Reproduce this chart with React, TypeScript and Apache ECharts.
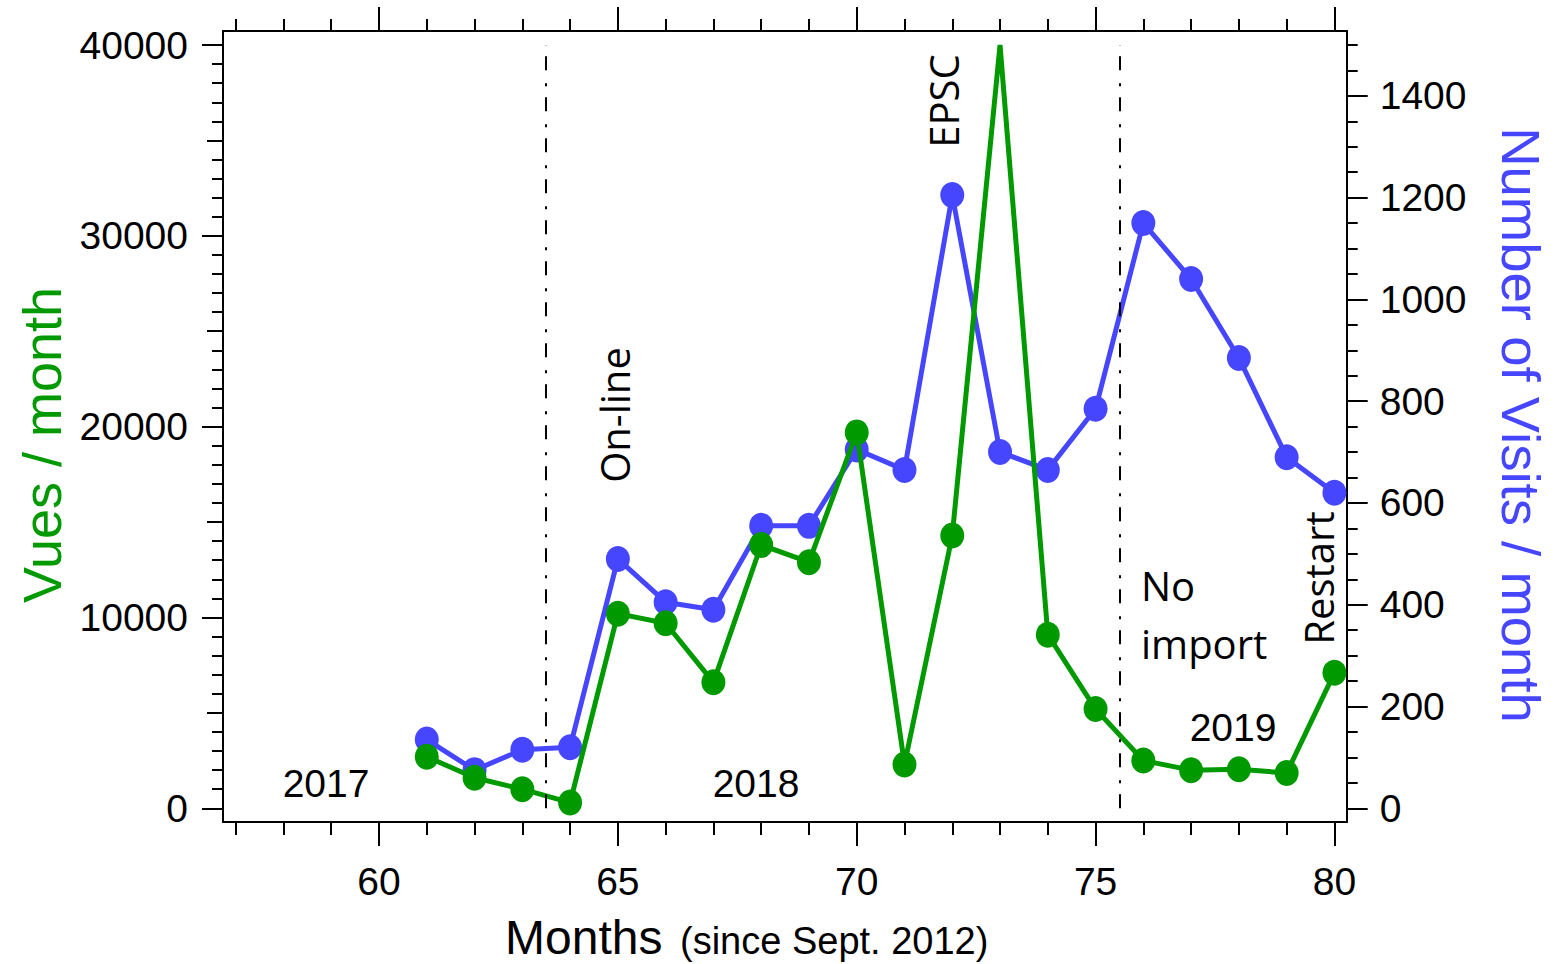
import React, { useEffect, useRef } from "react";
import * as echarts from "echarts";

// Months since Sept. 2012
const months = [61, 62, 63, 64, 65, 66, 67, 68, 69, 70, 71, 72, 73, 74, 75, 76, 77, 78, 79, 80];
// Page views per month (left axis); the month-73 peak runs off the top of the scale
const vuesPerMonth = [2700, 1600, 1000, 300, 10200, 9700, 6600, 13800, 12900, 19700, 2300, 14300, 40000, 9100, 5200, 2500, 2000, 2050, 1850, 7100];
// Visits per month (right axis)
const visitsPerMonth = [135, 75, 115, 120, 490, 405, 390, 555, 555, 705, 665, 1205, 700, 665, 785, 1150, 1040, 885, 690, 620];

const vuesTicks = [0, 10000, 20000, 30000, 40000];
const visitsTicks = [0, 200, 400, 600, 800, 1000, 1200, 1400];
const monthTicks = [60, 65, 70, 75, 80];
const vuesCeiling = 40000;

// Period boundaries (vertical dash-dot lines)
const periodBreaks = [63.5, 75.5];

const yearLabels = ["2017", "2018", "2019"];
const eventLabels = ["On-line", "EPSC", "No", "import", "Restart"];

const GREEN = "#009a00";
const BLUE = "#4646ff";
const AXIS_FONT = '"Liberation Sans", Arial, sans-serif';
const NOTE_FONT = '"Open Sans", "Noto Sans", sans-serif';

// axis extents (the frame extends a little past the labelled range)
const monthMin = 56.734;
const monthMax = 80.257;
const vuesMin = -718;
const vuesMax = 40734;
const visitsMin = -26.93;
const visitsMax = 1527.5;

function range(from: number, to: number, step: number, skip: (v: number) => boolean) {
  const out: number[] = [];
  for (let v = from; v <= to + 1e-9; v += step) if (!skip(v)) out.push(v);
  return out;
}

const monthMinor = range(57, 80, 1, (v) => v % 5 === 0);
const vuesMedium = range(5000, 35000, 10000, () => false);
const vuesMinor = range(1000, 40000, 1000, (v) => v % 5000 === 0);
const visitsMinor = range(50, 1500, 50, (v) => v % 200 === 0);

const tickLine = { color: "#000", width: 2 };

function ticksOnly(values: number[], length: number) {
  return {
    axisLine: { show: false, onZero: false },
    axisTick: { show: true, customValues: values, length, lineStyle: tickLine },
    axisLabel: { show: false },
    splitLine: { show: false },
  };
}

function labelled(values: number[], length: number, margin: number) {
  return {
    axisLine: { show: true, onZero: false, lineStyle: tickLine },
    axisTick: { show: true, customValues: values, length, lineStyle: tickLine },
    axisLabel: {
      show: true,
      customValues: values,
      margin,
      color: "#000",
      fontSize: 39,
      fontFamily: AXIS_FONT,
      formatter: (v: number) => String(v),
    },
    splitLine: { show: false },
  };
}

function buildOption() {
  const xBase = { type: "value", min: monthMin, max: monthMax, gridIndex: 0 };
  const vBase = { type: "value", min: vuesMin, max: vuesMax, position: "left" };
  const wBase = { type: "value", min: visitsMin, max: visitsMax, position: "right" };

  const note = (text: string, x: number, y: number, opts: any = {}) => ({
    type: "text",
    x,
    y,
    rotation: opts.rotation || 0,
    silent: true,
    style: {
      text,
      fill: opts.fill || "#000",
      fontSize: opts.fontSize || 40,
      fontFamily: opts.fontFamily || NOTE_FONT,
      align: opts.align || "center",
      verticalAlign: "middle",
    },
  });

  return {
    animation: false,
    backgroundColor: "#fff",
    textStyle: { fontFamily: AXIS_FONT },
    grid: { left: 223, top: 31, width: 1123.7, height: 791, containLabel: false, outerBoundsMode: "none" },
    xAxis: [
      { ...xBase, position: "bottom", ...labelled(monthTicks, 24, 40) },
      { ...xBase, position: "bottom", ...ticksOnly(monthMinor, 13) },
      { ...xBase, position: "top", ...ticksOnly(monthTicks, 24), axisLine: { show: true, onZero: false, lineStyle: tickLine } },
      { ...xBase, position: "top", ...ticksOnly(monthMinor, 12) },
    ],
    yAxis: [
      { ...vBase, ...labelled(vuesTicks, 21, 35) },
      { ...vBase, ...ticksOnly(vuesMedium, 16) },
      { ...vBase, ...ticksOnly(vuesMinor, 11) },
      { ...wBase, ...labelled(visitsTicks, 21, 33) },
      { ...wBase, ...ticksOnly(visitsMinor, 11) },
    ],
    series: [
      {
        name: "Number of Visits / month",
        type: "line",
        xAxisIndex: 0,
        yAxisIndex: 3,
        data: months.map((m, i) => [m, visitsPerMonth[i]]),
        symbol: "circle",
        symbolSize: [24, 26],
        lineStyle: { color: BLUE, width: 5 },
        itemStyle: { color: BLUE },
        emphasis: { disabled: true },
        z: 2,
      },
      {
        name: "Vues / month",
        type: "line",
        xAxisIndex: 0,
        yAxisIndex: 0,
        data: months.map((m, i) =>
          vuesPerMonth[i] >= vuesCeiling ? { value: [m, vuesPerMonth[i]], symbol: "none" } : [m, vuesPerMonth[i]]
        ),
        symbol: "circle",
        symbolSize: [24, 26],
        lineStyle: { color: GREEN, width: 5 },
        itemStyle: { color: GREEN },
        emphasis: { disabled: true },
        z: 3,
        markLine: {
          silent: true,
          symbol: ["none", "none"],
          label: { show: false },
          lineStyle: { color: "#000", width: 2, type: [14, 11, 3, 13] },
          emphasis: { disabled: true },
          data: periodBreaks.map((x) => [
            { coord: [x, vuesTicks[0]] },
            { coord: [x, vuesTicks[vuesTicks.length - 1]] },
          ]),
        },
      },
    ],
    graphic: [
      note("Vues / month", 42, 445, { rotation: Math.PI / 2, fill: GREEN, fontSize: 54, fontFamily: AXIS_FONT }),
      note("Number of Visits / month", 1520, 425, { rotation: -Math.PI / 2, fill: BLUE, fontSize: 54.5, fontFamily: AXIS_FONT }),
      note("Months", 505, 937, { align: "left", fontSize: 48, fontFamily: AXIS_FONT }),
      note("(since Sept. 2012)", 680, 941, { align: "left", fontSize: 38, fontFamily: AXIS_FONT }),
      note(yearLabels[0], 326, 783, { fontSize: 39, fontFamily: AXIS_FONT }),
      note(yearLabels[1], 756, 783, { fontSize: 39, fontFamily: AXIS_FONT }),
      note(yearLabels[2], 1233, 727, { fontSize: 39, fontFamily: AXIS_FONT }),
      note(eventLabels[0], 614, 415, { rotation: Math.PI / 2 }),
      note(eventLabels[1], 943, 101, { rotation: Math.PI / 2 }),
      note(eventLabels[2], 1141, 585, { align: "left" }),
      note(eventLabels[3], 1141, 643, { align: "left" }),
      note(eventLabels[4], 1318, 578, { rotation: Math.PI / 2 }),
    ],
  };
}

export default function App() {
  const ref = useRef<HTMLDivElement>(null);
  useEffect(() => {
    if (!ref.current) return;
    const chart = echarts.init(ref.current, null, { renderer: "svg" });
    chart.setOption(buildOption() as any);
    return () => chart.dispose();
  }, []);
  return (
    <div
      ref={ref}
      style={{ position: "fixed", left: 0, top: 0, width: 1565, height: 964, background: "#fff" }}
    />
  );
}
